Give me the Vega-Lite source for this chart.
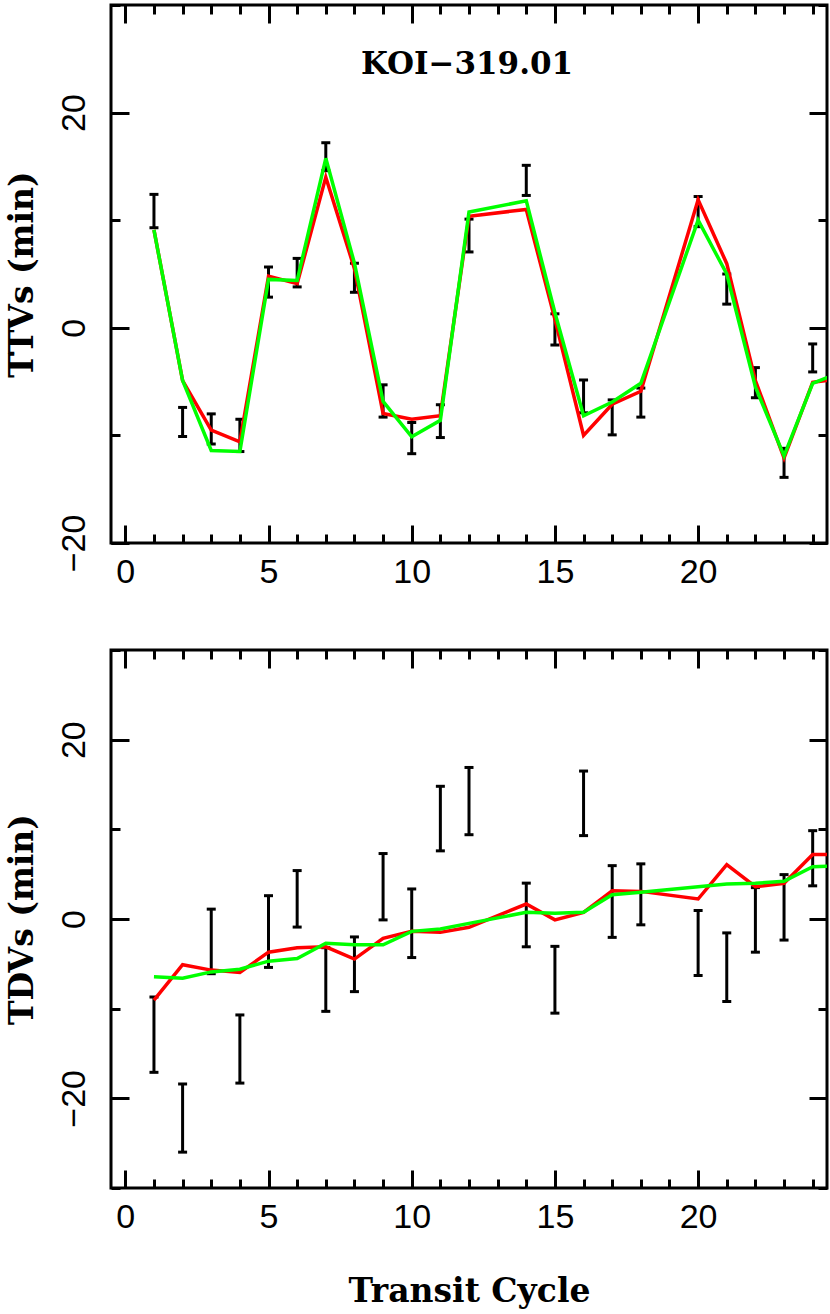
{
  "$schema": "https://vega.github.io/schema/vega-lite/v6.json",
  "padding": {"left": 4, "top": 2, "right": 3, "bottom": 6},
  "background": "white",
  "config": {
    "view": {"stroke": "black", "strokeWidth": 3},
    "axis": {"domain": false, "grid": false, "tickColor": "black", "tickWidth": 3, "labelFont": "Liberation Sans", "labelFontSize": 34, "labelColor": "black", "titleFont": "DejaVu Serif", "titleFontWeight": "bold", "titleFontSize": 33, "titleColor": "black"}
  },
  "datasets": {
    "ttvObs": [
      {"cycle": 1, "lo": 9.3, "hi": 12.4},
      {"cycle": 2, "lo": -10.1, "hi": -7.4},
      {"cycle": 3, "lo": -10.8, "hi": -8.0},
      {"cycle": 4, "lo": -11.5, "hi": -8.5},
      {"cycle": 5, "lo": 2.85, "hi": 5.65},
      {"cycle": 6, "lo": 3.8, "hi": 6.45},
      {"cycle": 7, "lo": 14.6, "hi": 17.2},
      {"cycle": 8, "lo": 3.3, "hi": 6.0},
      {"cycle": 9, "lo": -8.3, "hi": -5.3},
      {"cycle": 10, "lo": -11.7, "hi": -8.8},
      {"cycle": 11, "lo": -10.2, "hi": -7.15},
      {"cycle": 12, "lo": 7.05, "hi": 10.1},
      {"cycle": 14, "lo": 12.3, "hi": 15.1},
      {"cycle": 15, "lo": -1.6, "hi": 1.3},
      {"cycle": 16, "lo": -7.9, "hi": -4.85},
      {"cycle": 17, "lo": -9.95, "hi": -6.7},
      {"cycle": 18, "lo": -8.3, "hi": -5.6},
      {"cycle": 20, "lo": 9.4, "hi": 12.2},
      {"cycle": 21, "lo": 2.2, "hi": 5.0},
      {"cycle": 22, "lo": -6.5, "hi": -3.7},
      {"cycle": 23, "lo": -13.9, "hi": -11.2},
      {"cycle": 24, "lo": -4.1, "hi": -1.5}
    ],
    "ttvModel": [
      {"model": "model1", "cycle": 1, "value": 9.1},
      {"model": "model1", "cycle": 2, "value": -4.9},
      {"model": "model1", "cycle": 3, "value": -9.5},
      {"model": "model1", "cycle": 4, "value": -10.6},
      {"model": "model1", "cycle": 5, "value": 4.8},
      {"model": "model1", "cycle": 6, "value": 4.1},
      {"model": "model1", "cycle": 7, "value": 14.0},
      {"model": "model1", "cycle": 8, "value": 5.5},
      {"model": "model1", "cycle": 9, "value": -7.96},
      {"model": "model1", "cycle": 10, "value": -8.5},
      {"model": "model1", "cycle": 11, "value": -8.17},
      {"model": "model1", "cycle": 12, "value": 10.37},
      {"model": "model1", "cycle": 14, "value": 11.0},
      {"model": "model1", "cycle": 15, "value": 0.8},
      {"model": "model1", "cycle": 16, "value": -10.0},
      {"model": "model1", "cycle": 17, "value": -7.1},
      {"model": "model1", "cycle": 18, "value": -5.9},
      {"model": "model1", "cycle": 20, "value": 11.9},
      {"model": "model1", "cycle": 21, "value": 5.96},
      {"model": "model1", "cycle": 22, "value": -4.9},
      {"model": "model1", "cycle": 23, "value": -12.1},
      {"model": "model1", "cycle": 24, "value": -5.07},
      {"model": "model1", "cycle": 25, "value": -4.7},
      {"model": "model2", "cycle": 1, "value": 9.1},
      {"model": "model2", "cycle": 2, "value": -4.9},
      {"model": "model2", "cycle": 3, "value": -11.4},
      {"model": "model2", "cycle": 4, "value": -11.5},
      {"model": "model2", "cycle": 5, "value": 4.5},
      {"model": "model2", "cycle": 6, "value": 4.4},
      {"model": "model2", "cycle": 7, "value": 15.75},
      {"model": "model2", "cycle": 8, "value": 6.0},
      {"model": "model2", "cycle": 9, "value": -6.84},
      {"model": "model2", "cycle": 10, "value": -10.13},
      {"model": "model2", "cycle": 11, "value": -8.6},
      {"model": "model2", "cycle": 12, "value": 10.77},
      {"model": "model2", "cycle": 14, "value": 11.8},
      {"model": "model2", "cycle": 15, "value": 1.4},
      {"model": "model2", "cycle": 16, "value": -8.17},
      {"model": "model2", "cycle": 17, "value": -6.9},
      {"model": "model2", "cycle": 18, "value": -5.16},
      {"model": "model2", "cycle": 20, "value": 10.0},
      {"model": "model2", "cycle": 21, "value": 5.0},
      {"model": "model2", "cycle": 22, "value": -5.5},
      {"model": "model2", "cycle": 23, "value": -11.9},
      {"model": "model2", "cycle": 24, "value": -5.16},
      {"model": "model2", "cycle": 25, "value": -4.1}
    ],
    "tdvObs": [
      {"cycle": 1, "lo": -17.1, "hi": -8.7},
      {"cycle": 2, "lo": -26.0, "hi": -18.4},
      {"cycle": 3, "lo": -6.1, "hi": 1.1},
      {"cycle": 4, "lo": -18.3, "hi": -10.7},
      {"cycle": 5, "lo": -5.4, "hi": 2.6},
      {"cycle": 6, "lo": -0.9, "hi": 5.4},
      {"cycle": 7, "lo": -10.3, "hi": -3.2},
      {"cycle": 8, "lo": -8.1, "hi": -2.0},
      {"cycle": 9, "lo": -0.1, "hi": 7.3},
      {"cycle": 10, "lo": -4.3, "hi": 3.35},
      {"cycle": 11, "lo": 7.6, "hi": 14.8},
      {"cycle": 12, "lo": 9.4, "hi": 16.9},
      {"cycle": 14, "lo": -3.1, "hi": 4.0},
      {"cycle": 15, "lo": -10.5, "hi": -3.05},
      {"cycle": 16, "lo": 9.3, "hi": 16.5},
      {"cycle": 17, "lo": -2.05, "hi": 5.95},
      {"cycle": 18, "lo": -0.65, "hi": 6.15},
      {"cycle": 20, "lo": -6.3, "hi": 0.95},
      {"cycle": 21, "lo": -9.2, "hi": -1.55},
      {"cycle": 22, "lo": -3.7, "hi": 3.5},
      {"cycle": 23, "lo": -2.35, "hi": 4.95},
      {"cycle": 24, "lo": 3.7, "hi": 9.85}
    ],
    "tdvModel": [
      {"model": "model1", "cycle": 1, "value": -9.05},
      {"model": "model1", "cycle": 2, "value": -5.1},
      {"model": "model1", "cycle": 3, "value": -5.7},
      {"model": "model1", "cycle": 4, "value": -5.96},
      {"model": "model1", "cycle": 5, "value": -3.7},
      {"model": "model1", "cycle": 6, "value": -3.2},
      {"model": "model1", "cycle": 7, "value": -3.1},
      {"model": "model1", "cycle": 8, "value": -4.47},
      {"model": "model1", "cycle": 9, "value": -2.16},
      {"model": "model1", "cycle": 10, "value": -1.38},
      {"model": "model1", "cycle": 11, "value": -1.49},
      {"model": "model1", "cycle": 12, "value": -0.93},
      {"model": "model1", "cycle": 14, "value": 1.67},
      {"model": "model1", "cycle": 15, "value": -0.1},
      {"model": "model1", "cycle": 16, "value": 0.74},
      {"model": "model1", "cycle": 17, "value": 3.16},
      {"model": "model1", "cycle": 18, "value": 3.08},
      {"model": "model1", "cycle": 20, "value": 2.23},
      {"model": "model1", "cycle": 21, "value": 6.07},
      {"model": "model1", "cycle": 22, "value": 3.6},
      {"model": "model1", "cycle": 23, "value": 3.98},
      {"model": "model1", "cycle": 24, "value": 7.18},
      {"model": "model1", "cycle": 25, "value": 7.2},
      {"model": "model2", "cycle": 1, "value": -6.45},
      {"model": "model2", "cycle": 2, "value": -6.6},
      {"model": "model2", "cycle": 3, "value": -5.9},
      {"model": "model2", "cycle": 4, "value": -5.6},
      {"model": "model2", "cycle": 5, "value": -4.7},
      {"model": "model2", "cycle": 6, "value": -4.4},
      {"model": "model2", "cycle": 7, "value": -2.7},
      {"model": "model2", "cycle": 8, "value": -2.87},
      {"model": "model2", "cycle": 9, "value": -2.87},
      {"model": "model2", "cycle": 10, "value": -1.38},
      {"model": "model2", "cycle": 11, "value": -1.12},
      {"model": "model2", "cycle": 12, "value": -0.49},
      {"model": "model2", "cycle": 14, "value": 0.74},
      {"model": "model2", "cycle": 15, "value": 0.63},
      {"model": "model2", "cycle": 16, "value": 0.74},
      {"model": "model2", "cycle": 17, "value": 2.7},
      {"model": "model2", "cycle": 18, "value": 2.98},
      {"model": "model2", "cycle": 20, "value": 3.6},
      {"model": "model2", "cycle": 21, "value": 3.9},
      {"model": "model2", "cycle": 22, "value": 3.98},
      {"model": "model2", "cycle": 23, "value": 4.2},
      {"model": "model2", "cycle": 24, "value": 5.84},
      {"model": "model2", "cycle": 25, "value": 5.9}
    ],
    "label": [
      {"label": "KOI\u2212319.01", "cycle": 11.93, "value": 24.4}
    ]
  },
  "spacing": 107,
  "bounds": "flush",
  "vconcat": [
    {
      "width": 716,
      "height": 538,
      "resolve": {"axis": {"x": "independent", "y": "independent"}},
      "layer": [
        {
          "data": {"name": "ttvObs"},
          "mark": {"type": "rule", "strokeWidth": 3, "color": "black"},
          "encoding": {
            "x": {"field": "cycle", "type": "quantitative", "scale": {"domain": [-0.5, 24.5], "nice": false, "zero": false},
                  "axis": {"orient": "bottom", "values": [0, 5, 10, 15, 20], "tickSize": -18, "labelPadding": 30, "title": null}},
            "y": {"field": "lo", "type": "quantitative", "scale": {"domain": [-20, 30], "nice": false, "zero": false},
                  "axis": {"orient": "left", "values": [-20, 0, 20], "tickSize": -18, "labelAngle": -90, "labelAlign": "center", "labelBaseline": "bottom", "labelPadding": 38, "title": "TTVs (min)", "titlePadding": 18}},
            "y2": {"field": "hi"}
          }
        },
        {
          "data": {"name": "ttvObs"},
          "mark": {"type": "tick", "orient": "horizontal", "size": 9, "thickness": 3, "color": "black", "opacity": 1},
          "encoding": {
            "x": {"field": "cycle", "type": "quantitative", "scale": {"domain": [-0.5, 24.5], "nice": false, "zero": false},
                  "axis": {"orient": "bottom", "values": [0,1,2,3,4,5,6,7,8,9,10,11,12,13,14,15,16,17,18,19,20,21,22,23,24], "tickSize": -9, "labels": false, "title": null}},
            "y": {"field": "lo", "type": "quantitative", "scale": {"domain": [-20, 30], "nice": false, "zero": false},
                  "axis": {"orient": "left", "values": [-20, -10, 0, 10, 20, 30], "tickSize": -9, "labels": false, "title": null}}
          }
        },
        {
          "data": {"name": "ttvObs"},
          "mark": {"type": "tick", "orient": "horizontal", "size": 9, "thickness": 3, "color": "black", "opacity": 1},
          "encoding": {
            "x": {"field": "cycle", "type": "quantitative", "scale": {"domain": [-0.5, 24.5], "nice": false, "zero": false},
                  "axis": {"orient": "top", "values": [0, 5, 10, 15, 20], "tickSize": -18, "labels": false, "title": null}},
            "y": {"field": "hi", "type": "quantitative", "scale": {"domain": [-20, 30], "nice": false, "zero": false},
                  "axis": {"orient": "right", "values": [-20, 0, 20], "tickSize": -18, "labels": false, "title": null}}
          }
        },
        {
          "data": {"name": "ttvModel"},
          "mark": {"type": "line", "strokeWidth": 3.5, "clip": true},
          "encoding": {
            "x": {"field": "cycle", "type": "quantitative", "scale": {"domain": [-0.5, 24.5], "nice": false, "zero": false},
                  "axis": {"orient": "top", "values": [0,1,2,3,4,5,6,7,8,9,10,11,12,13,14,15,16,17,18,19,20,21,22,23,24], "tickSize": -9, "labels": false, "title": null}},
            "y": {"field": "value", "type": "quantitative", "scale": {"domain": [-20, 30], "nice": false, "zero": false},
                  "axis": {"orient": "right", "values": [-20, -10, 0, 10, 20, 30], "tickSize": -9, "labels": false, "title": null}},
            "color": {"field": "model", "type": "nominal", "scale": {"domain": ["model1", "model2"], "range": ["#ff0000", "#00ff00"]}, "legend": null}
          }
        },
        {
          "data": {"name": "label"},
          "mark": {"type": "text", "font": "DejaVu Serif", "fontWeight": "bold", "fontSize": 31, "color": "black", "align": "center", "baseline": "middle"},
          "encoding": {
            "x": {"field": "cycle", "type": "quantitative", "axis": null},
            "y": {"field": "value", "type": "quantitative", "axis": null},
            "text": {"field": "label"}
          }
        }
      ]
    },
    {
      "width": 716,
      "height": 538,
      "resolve": {"axis": {"x": "independent", "y": "independent"}},
      "layer": [
        {
          "data": {"name": "tdvObs"},
          "mark": {"type": "rule", "strokeWidth": 3, "color": "black"},
          "encoding": {
            "x": {"field": "cycle", "type": "quantitative", "scale": {"domain": [-0.5, 24.5], "nice": false, "zero": false},
                  "axis": {"orient": "bottom", "values": [0, 5, 10, 15, 20], "tickSize": -18, "labelPadding": 30, "title": "Transit Cycle", "titlePadding": 41}},
            "y": {"field": "lo", "type": "quantitative", "scale": {"domain": [-30, 30], "nice": false, "zero": false},
                  "axis": {"orient": "left", "values": [-20, 0, 20], "tickSize": -18, "labelAngle": -90, "labelAlign": "center", "labelBaseline": "bottom", "labelPadding": 38, "title": "TDVs (min)", "titlePadding": 18}},
            "y2": {"field": "hi"}
          }
        },
        {
          "data": {"name": "tdvObs"},
          "mark": {"type": "tick", "orient": "horizontal", "size": 9, "thickness": 3, "color": "black", "opacity": 1},
          "encoding": {
            "x": {"field": "cycle", "type": "quantitative", "scale": {"domain": [-0.5, 24.5], "nice": false, "zero": false},
                  "axis": {"orient": "bottom", "values": [0,1,2,3,4,5,6,7,8,9,10,11,12,13,14,15,16,17,18,19,20,21,22,23,24], "tickSize": -9, "labels": false, "title": null}},
            "y": {"field": "lo", "type": "quantitative", "scale": {"domain": [-30, 30], "nice": false, "zero": false},
                  "axis": {"orient": "left", "values": [-30, -20, -10, 0, 10, 20, 30], "tickSize": -9, "labels": false, "title": null}}
          }
        },
        {
          "data": {"name": "tdvObs"},
          "mark": {"type": "tick", "orient": "horizontal", "size": 9, "thickness": 3, "color": "black", "opacity": 1},
          "encoding": {
            "x": {"field": "cycle", "type": "quantitative", "scale": {"domain": [-0.5, 24.5], "nice": false, "zero": false},
                  "axis": {"orient": "top", "values": [0, 5, 10, 15, 20], "tickSize": -18, "labels": false, "title": null}},
            "y": {"field": "hi", "type": "quantitative", "scale": {"domain": [-30, 30], "nice": false, "zero": false},
                  "axis": {"orient": "right", "values": [-20, 0, 20], "tickSize": -18, "labels": false, "title": null}}
          }
        },
        {
          "data": {"name": "tdvModel"},
          "mark": {"type": "line", "strokeWidth": 3.5, "clip": true},
          "encoding": {
            "x": {"field": "cycle", "type": "quantitative", "scale": {"domain": [-0.5, 24.5], "nice": false, "zero": false},
                  "axis": {"orient": "top", "values": [0,1,2,3,4,5,6,7,8,9,10,11,12,13,14,15,16,17,18,19,20,21,22,23,24], "tickSize": -9, "labels": false, "title": null}},
            "y": {"field": "value", "type": "quantitative", "scale": {"domain": [-30, 30], "nice": false, "zero": false},
                  "axis": {"orient": "right", "values": [-30, -20, -10, 0, 10, 20, 30], "tickSize": -9, "labels": false, "title": null}},
            "color": {"field": "model", "type": "nominal", "scale": {"domain": ["model1", "model2"], "range": ["#ff0000", "#00ff00"]}, "legend": null}
          }
        }
      ]
    }
  ]
}
